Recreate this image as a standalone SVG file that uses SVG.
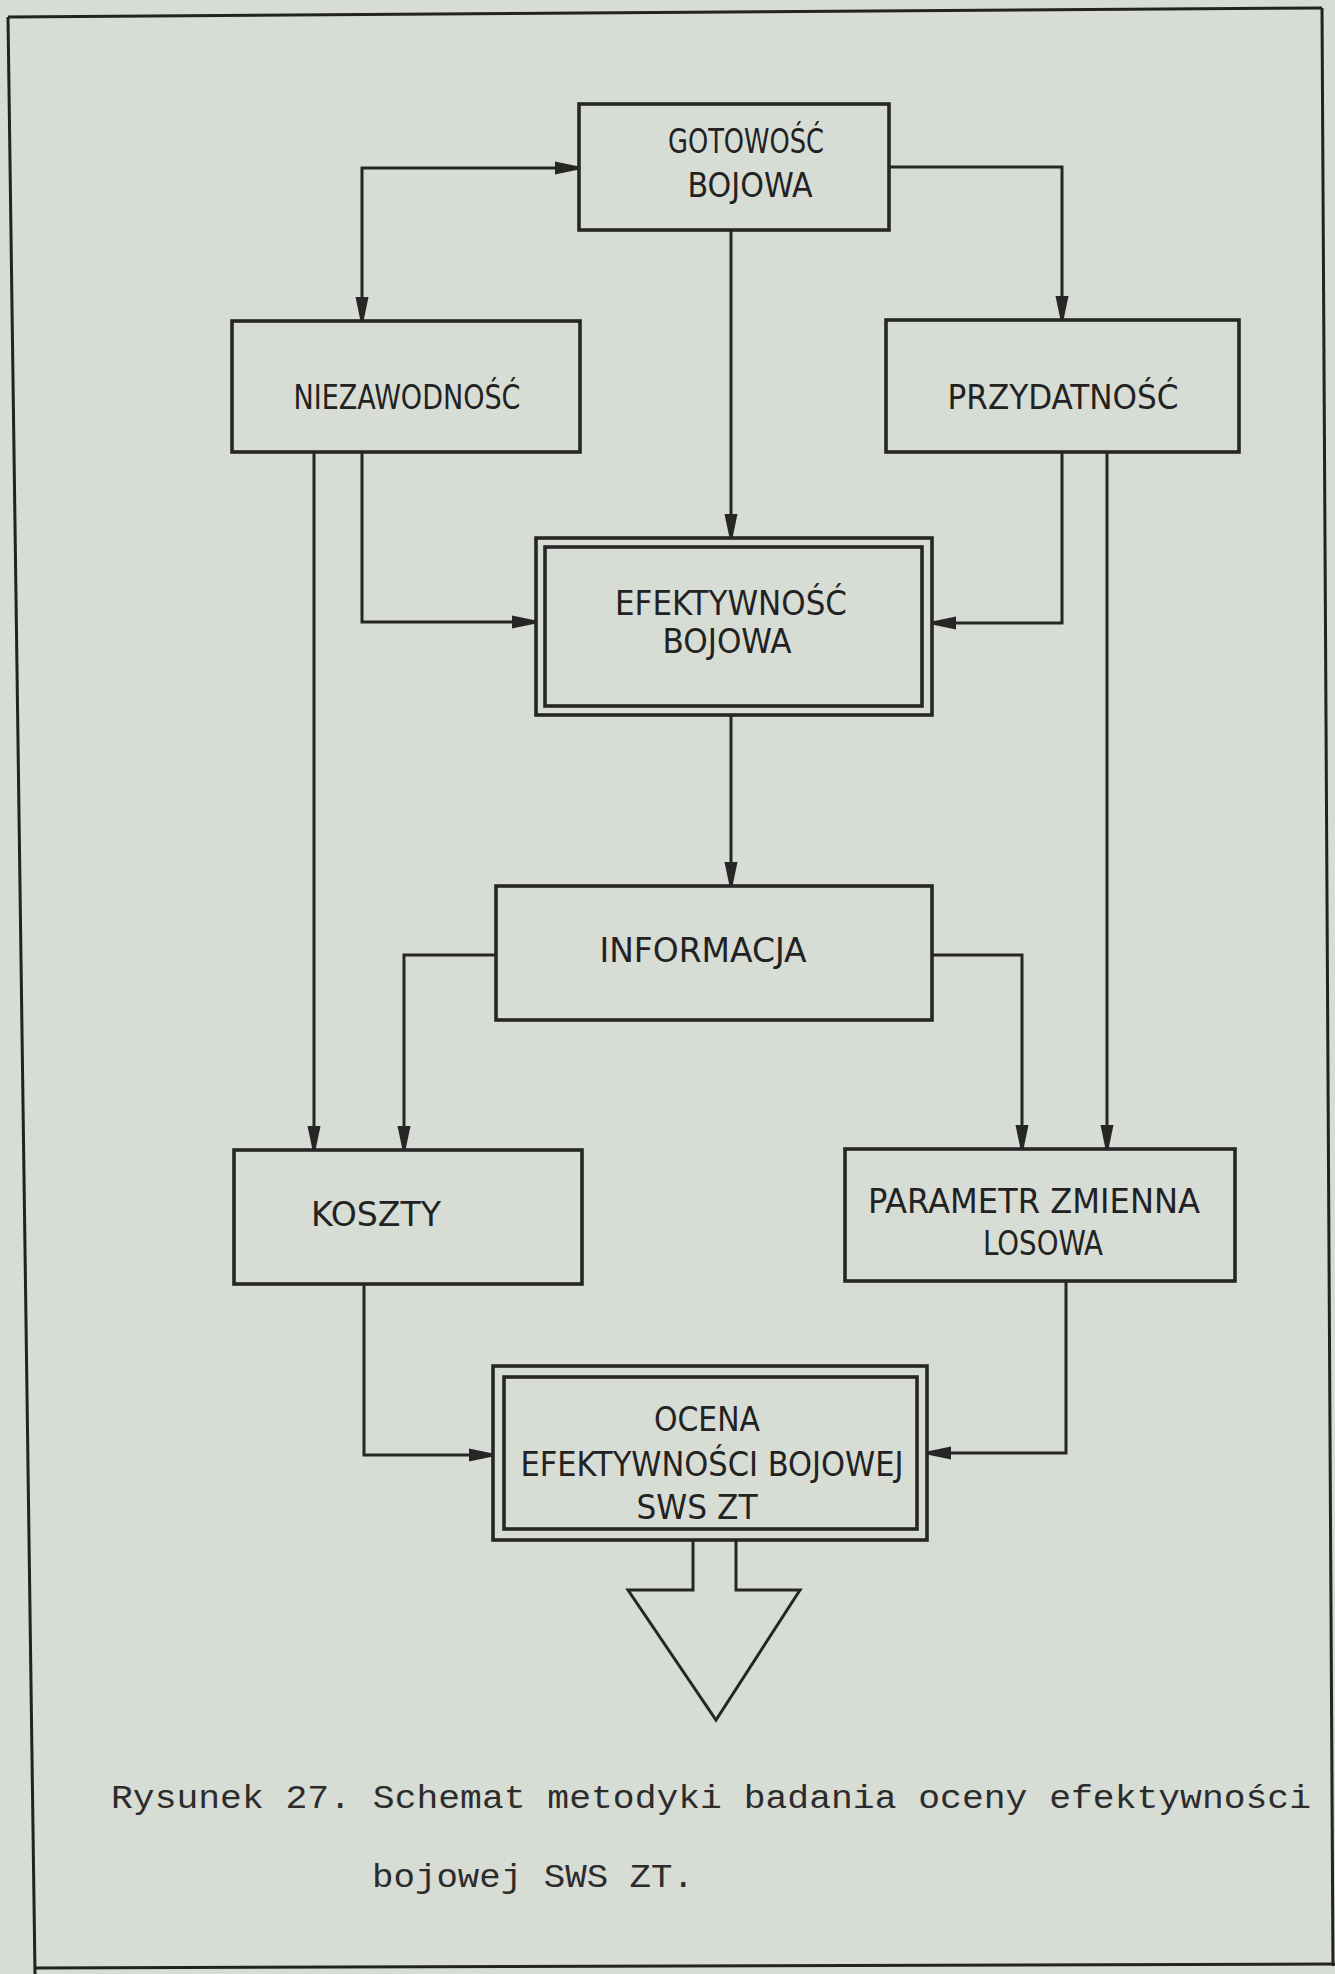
<svg xmlns="http://www.w3.org/2000/svg" width="1335" height="1974" viewBox="0 0 1335 1974">
  <style>
    .box { fill: none; stroke: #262626; stroke-width: 3.6; }
    .conn { fill: none; stroke: #262626; stroke-width: 3; }
    .lbl { font-family: "DejaVu Sans Condensed", "DejaVu Sans", "Liberation Sans", sans-serif; font-size: 34px; fill: #222; text-anchor: middle; }
    .cap { font-family: "Liberation Mono", "DejaVu Sans Mono", monospace; font-size: 34px; fill: #2c2c2c; }
    .frame { fill: none; stroke: #222; stroke-width: 3; }
  </style>
  <defs>
    <marker id="ah" viewBox="-26 -8 28 16" refX="0" refY="0" markerWidth="28" markerHeight="16" markerUnits="userSpaceOnUse" orient="auto-start-reverse">
      <path d="M0,-1.5 L-24,-6.5 L-24,6.5 L0,1.5 Z" fill="#262626"/>
    </marker>
  </defs>
  <rect x="0" y="0" width="1335" height="1974" fill="#d7dcd4"/>

  <g id="frame">
    <path class="frame" d="M8,17 L1322,8"/>
    <path class="frame" d="M8,17 L35,1974"/>
    <path class="frame" d="M1322,8 L1333,1966"/>
    <path class="frame" d="M35,1968 L1335,1964"/>
  </g>

  <g id="connectors">
    <path class="conn" d="M579,168 H362 V321" marker-start="url(#ah)" marker-end="url(#ah)"/>
    <path class="conn" d="M889,167 H1062 V320" marker-end="url(#ah)"/>
    <path class="conn" d="M731,230 V538" marker-end="url(#ah)"/>
    <path class="conn" d="M362,452 V622 H536" marker-end="url(#ah)"/>
    <path class="conn" d="M1062,452 V623 H932" marker-end="url(#ah)"/>
    <path class="conn" d="M314,452 V1150" marker-end="url(#ah)"/>
    <path class="conn" d="M1107,452 V1149" marker-end="url(#ah)"/>
    <path class="conn" d="M731,715 V886" marker-end="url(#ah)"/>
    <path class="conn" d="M496,955 H404 V1150" marker-end="url(#ah)"/>
    <path class="conn" d="M932,955 H1022 V1149" marker-end="url(#ah)"/>
    <path class="conn" d="M364,1284 V1455 H493" marker-end="url(#ah)"/>
    <path class="conn" d="M1066,1281 V1453 H927" marker-end="url(#ah)"/>
  </g>

  <g id="gotowosc">
    <rect class="box" x="579" y="104" width="310" height="126"/>
    <text class="lbl" x="746" y="153" textLength="156" lengthAdjust="spacingAndGlyphs">GOTOWOŚĆ</text>
    <text class="lbl" x="750" y="197" textLength="125" lengthAdjust="spacingAndGlyphs">BOJOWA</text>
  </g>

  <g id="niezawodnosc">
    <rect class="box" x="232" y="321" width="348" height="131"/>
    <text class="lbl" x="407" y="409" textLength="227" lengthAdjust="spacingAndGlyphs">NIEZAWODNOŚĆ</text>
  </g>

  <g id="przydatnosc">
    <rect class="box" x="886" y="320" width="353" height="132"/>
    <text class="lbl" x="1063" y="409" textLength="231" lengthAdjust="spacingAndGlyphs">PRZYDATNOŚĆ</text>
  </g>

  <g id="efektywnosc">
    <rect class="box" x="536" y="538" width="396" height="177"/>
    <rect class="box" x="545" y="547" width="377" height="159"/>
    <text class="lbl" x="731" y="615" textLength="232" lengthAdjust="spacingAndGlyphs">EFEKTYWNOŚĆ</text>
    <text class="lbl" x="727" y="653" textLength="129" lengthAdjust="spacingAndGlyphs">BOJOWA</text>
  </g>

  <g id="informacja">
    <rect class="box" x="496" y="886" width="436" height="134"/>
    <text class="lbl" x="703" y="962" textLength="207" lengthAdjust="spacingAndGlyphs">INFORMACJA</text>
  </g>

  <g id="koszty">
    <rect class="box" x="234" y="1150" width="348" height="134"/>
    <text class="lbl" x="376" y="1226" textLength="130" lengthAdjust="spacingAndGlyphs">KOSZTY</text>
  </g>

  <g id="parametr">
    <rect class="box" x="845" y="1149" width="390" height="132"/>
    <text class="lbl" x="1034" y="1213" textLength="332" lengthAdjust="spacingAndGlyphs">PARAMETR  ZMIENNA</text>
    <text class="lbl" x="1043" y="1255" textLength="120" lengthAdjust="spacingAndGlyphs">LOSOWA</text>
  </g>

  <g id="ocena">
    <rect class="box" x="493" y="1366" width="434" height="174"/>
    <rect class="box" x="504" y="1377" width="413" height="152"/>
    <text class="lbl" x="707" y="1431" textLength="106" lengthAdjust="spacingAndGlyphs">OCENA</text>
    <text class="lbl" x="712" y="1476" textLength="383" lengthAdjust="spacingAndGlyphs">EFEKTYWNOŚCI BOJOWEJ</text>
    <text class="lbl" x="697" y="1519" textLength="121" lengthAdjust="spacingAndGlyphs">SWS ZT</text>
  </g>

  <g id="output-arrow">
    <path class="conn" d="M693,1540 V1590 H628 L716,1720 L800,1590 H736 V1540"/>
  </g>

  <g id="caption">
    <text class="cap" x="111" y="1808" textLength="1200" lengthAdjust="spacingAndGlyphs">Rysunek 27. Schemat metodyki badania oceny efektywności</text>
    <text class="cap" x="372" y="1887" textLength="322" lengthAdjust="spacingAndGlyphs">bojowej SWS ZT.</text>
  </g>
</svg>
